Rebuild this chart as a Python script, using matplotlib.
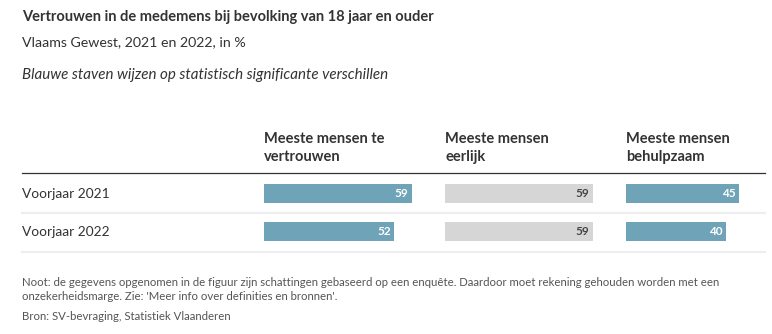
import matplotlib.pyplot as plt
from matplotlib.lines import Line2D

plt.rcParams["font.family"] = ["Lato", "DejaVu Sans"]

# data
rows = ["Voorjaar 2021", "Voorjaar 2022"]
columns = ["Meeste mensen te\nvertrouwen", "Meeste mensen\neerlijk", "Meeste mensen\nbehulpzaam"]
vertrouwen = [59, 52]
eerlijk = [59, 59]
behulpzaam = [45, 40]
significant = [True, False, True]  # blue = significant difference

BLUE = "#6fa3b8"
GREY = "#d6d6d6"
TXT = "#333333"

W, H = 772, 334
fig = plt.figure(figsize=(W / 100, H / 100), dpi=100)


def fx(px):
    return px / W


def fy(py):
    return 1 - py / H


fig.text(fx(22), fy(17), "Vertrouwen in de medemens bij bevolking van 18 jaar en ouder",
         fontsize=10.5, fontweight="bold", color=TXT, va="center")
fig.text(fx(22), fy(42), "Vlaams Gewest, 2021 en 2022, in %",
         fontsize=10.2, color=TXT, va="center")
fig.text(fx(22), fy(75), "Blauwe staven wijzen op statistisch significante verschillen",
         fontsize=10.9, style="italic", color=TXT, va="center")

# table lines
fig.add_artist(Line2D([fx(22), fx(765)], [fy(173), fy(173)], color="#333333", lw=0.9))
for py in (212.5, 252):
    fig.add_artist(Line2D([fx(22), fx(765)], [fy(py), fy(py)], color="#eeeeee", lw=1.6))

row_y = [193.5, 231.5]
for lab, py in zip(rows, row_y):
    fig.text(fx(22), fy(py), lab, fontsize=9.9, color=TXT, va="center")

col_x = [264, 445, 626]
col_w = 181
scale_max = col_w / 2.5
series = [vertrouwen, eerlijk, behulpzaam]

for x0, head, vals, sig in zip(col_x, columns, series, significant):
    fig.text(fx(x0), fy(148), head, fontsize=10.5, fontweight="bold", color=TXT,
             va="center", linespacing=1.3)
    ax = fig.add_axes([fx(x0), fy(252), fx(col_w), (252 - 173) / H])
    ypos = list(range(len(rows)))
    color = BLUE if sig else GREY
    ax.barh(ypos, vals, height=0.5, color=color, edgecolor="none")
    for yy, v in zip(ypos, vals):
        ax.text(v - 1.3, yy, str(v), ha="right", va="center", fontsize=8.5,
                fontweight="bold", color="white" if sig else "#444444")
    ax.set_xlim(0, scale_max)
    ax.set_ylim(1.54, -0.54)
    ax.axis("off")

NOTE = "#555555"
fig.text(fx(22), fy(282), "Noot: de gegevens opgenomen in de figuur zijn schattingen gebaseerd op een enquête. "
         "Daardoor moet rekening gehouden worden met een", fontsize=8.2, color=NOTE, va="center")
fig.text(fx(22), fy(296), "onzekerheidsmarge. Zie: 'Meer info over definities en bronnen'.",
         fontsize=8.2, color=NOTE, va="center")
fig.text(fx(22), fy(316), "Bron: SV-bevraging, Statistiek Vlaanderen",
         fontsize=8.2, color=NOTE, va="center")

fig.savefig("out.png", dpi=100)
